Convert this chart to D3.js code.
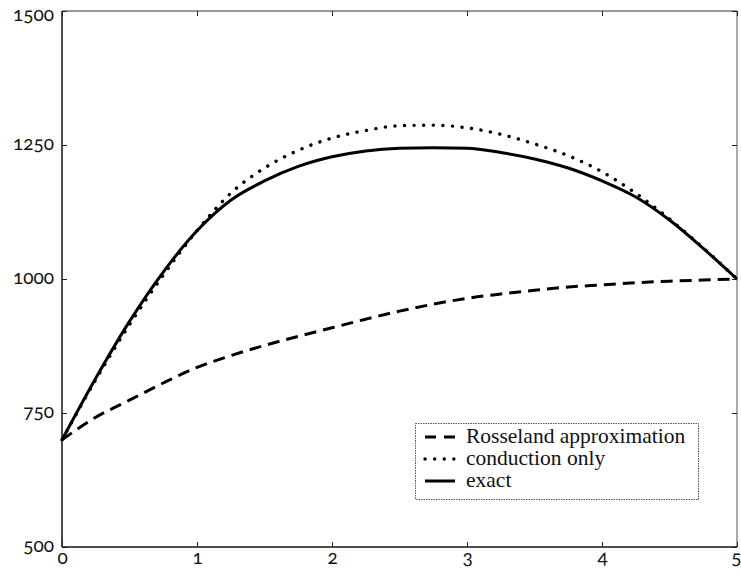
<!DOCTYPE html>
<html>
<head>
<meta charset="utf-8">
<script src="https://cdn.jsdelivr.net/npm/d3@7"></script>
<style>
  html, body { margin: 0; padding: 0; background: #fff; }
  svg { display: block; }
  .tick-label { font-family: Lato, "Open Sans", sans-serif; font-size: 19px; font-variant-numeric: oldstyle-nums; font-feature-settings: "onum" 1; fill: #111; }
  .legend-text { font-family: "Liberation Serif", "DejaVu Serif", serif; font-size: 21.5px; fill: #111; }
</style>
</head>
<body>
<svg id="chart" width="741" height="579"></svg>
<script>
const xValues = [0, 0.25, 0.5, 0.75, 1, 1.25, 1.5, 1.75, 2, 2.25, 2.5, 2.75, 3, 3.25, 3.5, 3.75, 4, 4.25, 4.5, 4.75, 5];
const rosseland = [700, 742, 774, 806, 835, 857, 876, 893, 909, 925, 940, 953, 964, 972, 979, 985, 989, 993, 996, 998, 1000];
const conduction = [700, 812, 915, 1007, 1090, 1160, 1207, 1240, 1263, 1277, 1286, 1287, 1282, 1270, 1252, 1230, 1200, 1160, 1112, 1058, 1000];
const exact = [700, 815, 921, 1013, 1090, 1147, 1183, 1210, 1228, 1239, 1244, 1245, 1244, 1236, 1224, 1207, 1183, 1153, 1110, 1057, 1000];
const xTicks = [0, 1, 2, 3, 4, 5];
const yTicks = [500, 750, 1000, 1250, 1500];
const legendLabels = ["Rosseland approximation", "conduction only", "exact"];

const svg = d3.select("#chart");
const x = d3.scaleLinear().domain([0, 5]).range([62, 737]);
const y = d3.scaleLinear().domain([500, 1500]).range([547, 11]);

// frame
svg.append("line").attr("x1", x(0)).attr("x2", x(5)).attr("y1", y(1500)).attr("y2", y(1500)).attr("stroke", "#333").attr("stroke-width", 1);
svg.append("line").attr("x1", x(5)).attr("x2", x(5)).attr("y1", y(1500)).attr("y2", y(500)).attr("stroke", "#555").attr("stroke-width", 1);
svg.append("line").attr("x1", x(0)).attr("x2", x(5)).attr("y1", y(500)).attr("y2", y(500)).attr("stroke", "#111").attr("stroke-width", 1.5);
svg.append("line").attr("x1", x(0)).attr("x2", x(0)).attr("y1", y(1500)).attr("y2", y(500)).attr("stroke", "#111").attr("stroke-width", 1.5);

// axes (ticks inward)
const yAxisL = d3.axisLeft(y).tickValues(yTicks).tickSize(-5).tickPadding(8).tickFormat(d3.format("d"));
const gy = svg.append("g").attr("transform", `translate(${x(0)},0)`).call(yAxisL);
const xAxisB = d3.axisBottom(x).tickValues(xTicks).tickSize(-5).tickPadding(6).tickFormat(d3.format("d"));
const gx = svg.append("g").attr("transform", `translate(0,${y(500)})`).call(xAxisB);
const yAxisR = d3.axisRight(y).tickValues(yTicks).tickSize(-5).tickFormat("");
const gyr = svg.append("g").attr("transform", `translate(${x(5)},0)`).call(yAxisR);
const xAxisT = d3.axisTop(x).tickValues(xTicks).tickSize(-5).tickFormat("");
const gxt = svg.append("g").attr("transform", `translate(0,${y(1500)})`).call(xAxisT);
[gy, gx, gyr, gxt].forEach(g => {
  g.select(".domain").remove();
  g.selectAll(".tick line").attr("stroke", "#222").attr("stroke-width", 1);
  g.selectAll(".tick text").attr("class", "tick-label").attr("font-size", null).attr("font-family", null);
});
gy.selectAll(".tick text").attr("dy", d => d === 1500 ? "0.5em" : "0.25em");
gx.selectAll(".tick text").attr("dy", "0.6em")
  .attr("text-anchor", d => d === 5 ? "end" : "middle")
  .attr("dx", d => d === 5 ? 4 : 0);

// lines
const series = [
  { vals: rosseland, dash: "12,7", width: 3, cap: "butt" },
  { vals: conduction, dash: "0.1,9.5", width: 3.4, cap: "round" },
  { vals: exact, dash: null, width: 3, cap: "butt" }
];
const line = d3.line().x((d, i) => x(xValues[i])).y(d => y(d)).curve(d3.curveMonotoneX);
series.forEach(s => {
  svg.append("path").datum(s.vals).attr("d", line)
    .attr("fill", "none").attr("stroke", "#000").attr("stroke-width", s.width)
    .attr("stroke-linecap", s.cap).attr("stroke-linejoin", "round")
    .attr("stroke-dasharray", s.dash);
});

// legend
const lg = svg.append("g");
lg.append("rect").attr("x", 415.5).attr("y", 423.5).attr("width", 283).attr("height", 76)
  .attr("fill", "#fff").attr("stroke", "#555").attr("stroke-width", 1).attr("stroke-dasharray", "1.5,1");
legendLabels.forEach((lab, i) => {
  const cy = 437 + i * 22;
  const s = series[i];
  lg.append("line").attr("x1", 425).attr("x2", 455).attr("y1", cy).attr("y2", cy)
    .attr("stroke", "#000").attr("stroke-width", s.width).attr("stroke-linecap", s.cap)
    .attr("stroke-dasharray", i === 0 ? "11,8" : (i === 1 ? "0.1,9.5" : null));
  lg.append("text").attr("class", "legend-text").attr("x", 466).attr("y", cy).attr("dy", "0.3em").text(lab);
});
</script>
</body>
</html>
